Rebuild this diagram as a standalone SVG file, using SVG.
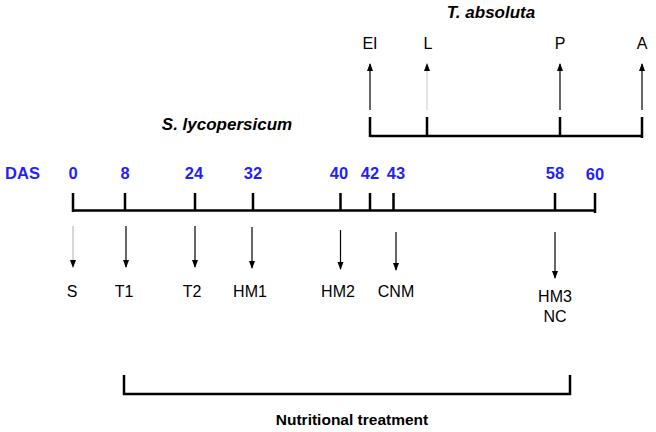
<svg xmlns="http://www.w3.org/2000/svg" width="656" height="432" viewBox="0 0 656 432">
<defs>
<marker id="ah" viewBox="0 0 8 8" refX="7" refY="4" markerWidth="8" markerHeight="8" markerUnits="userSpaceOnUse" orient="auto">
<path d="M0,1 L8,4 L0,7 Z" fill="#000"/>
</marker>
</defs>
<style>
.t{font-family:"Liberation Sans",Arial,sans-serif;font-size:16px;fill:#000;text-anchor:middle}
.n{font-family:"Liberation Sans",Arial,sans-serif;font-size:16.5px;font-weight:bold;fill:#1f1fff;text-anchor:middle}
.bi{font-family:"Liberation Sans",Arial,sans-serif;font-size:17px;font-weight:bold;font-style:italic;fill:#000;text-anchor:middle}
.b{font-family:"Liberation Sans",Arial,sans-serif;font-size:15.5px;font-weight:bold;fill:#000;text-anchor:middle}
.ax{stroke:#000;stroke-width:2.5;fill:none}
.ar{stroke:#000;stroke-width:1.2;fill:none;marker-end:url(#ah)}
</style>
<rect width="656" height="432" fill="#fff"/>
<g id="titles">
<text class="bi" x="491" y="18">T. absoluta</text>
<text class="bi" x="227" y="130">S. lycopersicum</text>
<text class="b" x="352" y="425">Nutritional treatment</text>
</g>
<g id="tabsoluta-axis">
<path class="ax" d="M370,136 H642 M370,117 V137 M427,117 V137 M560,117 V137 M642,117 V138"/>
<text class="t" x="370" y="49">EI</text>
<text class="t" x="428" y="49">L</text>
<text class="t" x="560" y="49">P</text>
<text class="t" x="642" y="49">A</text>
</g>
<g id="main-axis">
<path class="ax" d="M72,210.5 H595 M73,193 V212 M125,193 V211 M195,193 V211 M253,193 V211 M340.5,193 V211 M370,193 V211 M393.5,193 V211 M555,193 V211 M595,193 V213"/>
<text class="n" x="22.5" y="179">DAS</text>
<text class="n" x="73" y="179">0</text>
<text class="n" x="125" y="179">8</text>
<text class="n" x="194" y="179">24</text>
<text class="n" x="253" y="179">32</text>
<text class="n" x="339" y="179">40</text>
<text class="n" x="370" y="179">42</text>
<text class="n" x="396" y="179">43</text>
<text class="n" x="555" y="179">58</text>
<text class="n" x="595" y="180">60</text>
</g>
<g id="events">
<text class="t" x="72" y="297">S</text>
<text class="t" x="124" y="297">T1</text>
<text class="t" x="192" y="297">T2</text>
<text class="t" x="250" y="297">HM1</text>
<text class="t" x="338" y="297">HM2</text>
<text class="t" x="396" y="297">CNM</text>
<text class="t" x="555" y="302">HM3</text>
<text class="t" x="555" y="322">NC</text>
</g>
<g id="nutrition-bracket">
<path class="ax" d="M124,375 V394 H570 V375"/>
</g>
<g id="connectors">
<line x1="73" y1="226" x2="73" y2="267" stroke="#999" stroke-width="0.8" marker-end="url(#ah)"/>
<line class="ar" x1="126" y1="226" x2="126" y2="267"/>
<line class="ar" x1="195" y1="226" x2="195" y2="267"/>
<line class="ar" x1="252" y1="227" x2="252" y2="268"/>
<line class="ar" x1="340.5" y1="230" x2="340.5" y2="269"/>
<line class="ar" x1="396" y1="232" x2="396" y2="270"/>
<line class="ar" x1="555" y1="232" x2="555" y2="278"/>
<line class="ar" x1="370" y1="110" x2="370" y2="64"/>
<line x1="427" y1="110" x2="427" y2="64" stroke="#bbb" stroke-width="0.8" marker-end="url(#ah)"/>
<line class="ar" x1="560" y1="110" x2="560" y2="64"/>
<line class="ar" x1="642" y1="110" x2="642" y2="64"/>
</g>
</svg>
